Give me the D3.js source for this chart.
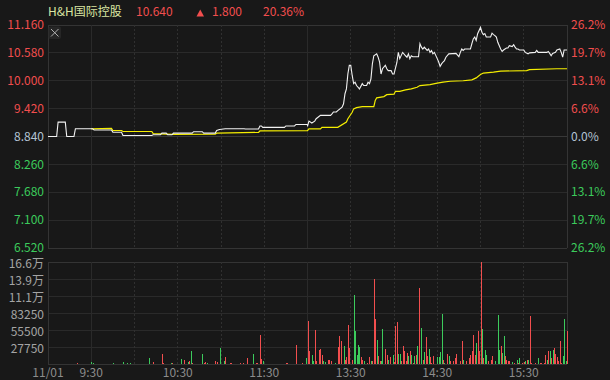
<!DOCTYPE html>
<html>
<head>
<meta charset="utf-8">
<script src="https://cdn.jsdelivr.net/npm/d3@7"></script>
<style>
	body{margin:0;background:#181818;}
	svg{display:block;}
	text{font-family:"Noto Sans CJK SC","Noto Sans",sans-serif;font-size:12px;}
</style>
</head>
<body>
<svg id="chart" width="610" height="380"></svg>
<script>

// quote header
var stockName = "H&H国际控股";
var lastPrice = "10.640";
var change = "1.800";
var changePct = "20.36%";
var prevClose = 8.84;

// price axis
var priceTicks = [11.16, 10.58, 10.00, 9.42, 8.84, 8.26, 7.68, 7.10, 6.52];
var pctLabels = ["26.2%", "19.7%", "13.1%", "6.6%", "0.0%", "6.6%", "13.1%", "19.7%", "26.2%"];

// volume axis
var volTicks = [27750, 55500, 83250, 111000, 138750, 166500];
var volLabels = ["27750", "55500", "83250", "11.1万", "13.9万", "16.6万"];

// time axis
var timeTicks = ["9:00", "9:30", "10:30", "11:30", "13:30", "14:30", "15:30"];
var timeLabels = ["11/01", "9:30", "10:30", "11:30", "13:30", "14:30", "15:30"];
var solidGrid = ["9:30", "12:00"];
var dottedGrid = ["10:00", "10:30", "11:00", "11:30", "13:30", "14:00", "14:30", "15:00", "15:30"];

// minute price line
var priceTimes = ["9:00","9:06","9:07","9:12","9:13","9:18","9:19","9:31","9:32","9:44","9:45","9:51","9:52","10:12","10:13","10:18","10:19","10:22","10:23","10:26",
	"10:27","10:40","10:41","10:47","10:48","10:56","10:57","10:59","11:03","11:16","11:17","11:26","11:27","11:28","11:29","11:44","11:45","11:51","11:52","12:00",
	"13:00","13:01","13:03","13:05","13:06","13:09","13:16","13:17","13:18","13:20","13:21","13:24","13:25","13:26","13:27","13:28","13:29","13:30","13:31","13:32",
	"13:33","13:34","13:35","13:36","13:38","13:39","13:41","13:42","13:43","13:44","13:45","13:46","13:48","13:49","13:50","13:51","13:52","13:54","13:55","13:56",
	"13:58","13:59","14:00","14:02","14:03","14:04","14:06","14:08","14:09","14:10","14:11","14:12","14:13","14:17","14:18","14:19","14:20","14:21","14:23","14:24",
	"14:25","14:26","14:27","14:28","14:30","14:31","14:32","14:33","14:34","14:35","14:36","14:38","14:43","14:45","14:46","14:47","14:48","14:49","14:53","14:54",
	"14:55","14:56","14:57","14:58","15:00","15:01","15:02","15:03","15:04","15:07","15:08","15:09","15:10","15:11","15:12","15:14","15:15","15:16","15:17","15:18",
	"15:19","15:20","15:22","15:23","15:24","15:25","15:26","15:27","15:30","15:31","15:33","15:34","15:38","15:39","15:40","15:46","15:47","15:48","15:49","15:50",
	"15:52","15:53","15:55","15:56","15:57","15:58","16:00"];
var priceValues = [8.84,8.84,9.14,9.14,8.84,8.84,9.00,9.00,8.975,8.975,8.93,8.93,8.86,8.86,8.875,8.875,8.91,8.91,8.875,8.875,
	8.91,8.91,8.94,8.94,8.91,8.91,8.965,8.985,9.00,9.00,8.995,8.995,9.06,9.06,9.03,9.03,9.06,9.06,9.09,9.09,
	9.05,9.16,9.12,9.16,9.21,9.28,9.28,9.31,9.35,9.35,9.38,9.45,9.52,9.73,9.83,10.14,10.32,10.32,10.11,9.94,
	9.97,9.90,9.87,9.83,9.94,9.90,9.90,9.97,9.94,10.04,10.35,10.52,10.56,10.49,10.39,10.14,10.25,10.32,10.25,10.21,
	10.21,10.14,10.14,10.38,10.59,10.46,10.59,10.52,10.49,10.56,10.46,10.52,10.50,10.50,10.77,10.70,10.66,10.70,10.63,10.66,
	10.59,10.63,10.56,10.59,10.46,10.39,10.30,10.35,10.39,10.42,10.49,10.56,10.57,10.50,10.59,10.66,10.63,10.66,10.66,10.77,
	10.87,10.91,10.84,10.98,11.11,11.01,10.96,10.98,10.91,10.91,10.99,10.96,10.94,10.91,10.80,10.66,10.61,10.64,10.66,10.68,
	10.68,10.73,10.71,10.75,10.70,10.66,10.66,10.64,10.64,10.59,10.56,10.58,10.59,10.63,10.59,10.59,10.61,10.57,10.52,10.57,
	10.59,10.64,10.66,10.59,10.49,10.64,10.64];

// average price line
var avgTimes = ["9:30","9:44","9:45","9:51","9:52","10:12","10:13","10:27","10:56","10:57","11:15","11:26","11:27","12:00",
	"13:01","13:09","13:10","13:21","13:27","13:28","13:31","13:32","13:34","13:38","13:46","13:47","13:48","13:53","13:55","14:00",
	"14:01","14:04","14:08","14:12","14:16","14:18","14:25","14:30","14:34","14:39","14:48","14:54","14:57","15:00","15:02","15:09",
	"15:14","15:32","15:34","15:53","16:00"];
var avgValues = [9.00,9.01,8.965,8.965,8.944,8.944,8.90,8.885,8.89,8.91,8.92,8.925,8.955,8.96,
	9.00,9.00,9.03,9.03,9.14,9.21,9.345,9.415,9.44,9.46,9.46,9.59,9.645,9.67,9.71,9.72,
	9.78,9.78,9.81,9.83,9.865,9.90,9.92,9.95,9.97,9.99,10.00,10.02,10.06,10.13,10.16,10.18,
	10.20,10.21,10.23,10.25,10.25];

// minute volume (dir 1 = up tick, -1 = down tick)
var volTimes = ["9:20","9:30","9:31","9:45","9:52","9:55","9:57","10:10","10:13","10:19","10:20","10:25","10:26","10:32","10:34","10:37","10:38","10:39","10:40","10:47",
	"10:48","10:49","10:50","10:56","10:57","10:59","11:02","11:03","11:06","11:07","11:13","11:15","11:18","11:22","11:24","11:25","11:27","11:28","11:29","11:45",
	"11:46","11:52","11:56","11:59","13:00","13:01","13:03","13:04","13:05","13:06","13:08","13:09","13:10","13:11","13:12","13:14","13:15","13:16","13:19","13:21",
	"13:22","13:23","13:25","13:26","13:27","13:28","13:29","13:31","13:32","13:33","13:34","13:35","13:36","13:37","13:38","13:39","13:41","13:43","13:44","13:45",
	"13:46","13:47","13:48","13:49","13:50","13:51","13:52","13:54","13:55","13:56","13:57","13:59","14:00","14:01","14:02","14:03","14:04","14:05","14:06","14:07",
	"14:08","14:09","14:10","14:11","14:12","14:13","14:14","14:15","14:16","14:17","14:19","14:20","14:21","14:22","14:23","14:24","14:25","14:26","14:27","14:30",
	"14:31","14:32","14:33","14:34","14:35","14:37","14:38","14:39","14:41","14:42","14:43","14:46","14:47","14:48","14:50","14:52","14:53","14:54","14:55","14:56",
	"14:57","14:58","14:59","15:00","15:01","15:02","15:03","15:04","15:05","15:07","15:08","15:10","15:12","15:13","15:14","15:15","15:16","15:17","15:18","15:19",
	"15:20","15:22","15:23","15:25","15:26","15:27","15:29","15:30","15:31","15:32","15:33","15:34","15:35","15:38","15:40","15:41","15:42","15:44","15:45","15:46",
	"15:47","15:48","15:49","15:50","15:51","15:52","15:53","15:54","15:55","15:56","15:57","15:58","15:59","16:00"];
var volValues = [1800,4000,1500,1500,3900,1500,1500,10400,3900,16900,1500,1500,1500,8800,7200,3900,5600,21700,1500,16900,
	1500,3300,1500,5600,2700,26600,5600,12000,1500,1500,1500,1500,10400,16900,1500,1500,47700,8800,5600,1800,
	1500,31400,1800,10400,70300,20600,15200,5500,55800,5500,23300,25000,15200,5000,2700,7100,7100,5500,1800,27100,
	46000,36800,29800,7100,10900,63900,26100,6000,112500,54600,15200,31400,28000,11500,7100,5500,1800,11500,5500,5500,
	138400,73600,39500,13500,5500,5500,57400,25000,15200,7100,11500,15200,2700,62300,68200,16900,16900,5500,29800,20600,
	5500,18000,12500,22000,15200,1800,12500,15200,29800,124300,59500,7100,19000,43300,12500,25000,11000,1800,12500,11500,
	11000,19000,81700,7100,1800,16000,12500,5500,5500,10000,16000,5500,36800,7100,5500,10000,15200,20600,47200,15200,
	34200,54100,20600,166000,56900,10000,23300,15200,5500,7100,12500,5500,80100,23300,28700,18000,44900,12500,7100,5500,
	5500,2700,1800,7100,1800,10000,1800,2700,5500,7100,7100,78500,1800,1800,10000,1800,1800,1800,15200,7100,
	21700,20600,10000,23300,26100,16000,11000,5500,36800,1800,12500,73600,5500,54100];
var volDir = [1,-1,-1,-1,-1,-1,-1,-1,1,1,1,-1,1,-1,1,-1,1,-1,1,-1,
	1,1,-1,1,1,-1,-1,1,1,1,1,1,1,-1,1,1,1,1,-1,1,
	1,1,1,-1,1,1,-1,-1,1,1,1,1,1,-1,-1,1,1,1,-1,1,
	1,1,-1,1,1,1,1,1,-1,-1,-1,-1,-1,1,1,-1,1,1,-1,1,
	1,1,-1,1,1,-1,-1,1,1,-1,1,-1,1,1,1,-1,-1,1,1,1,
	1,1,-1,1,-1,1,-1,1,-1,1,-1,1,-1,1,1,-1,1,1,1,-1,
	-1,-1,-1,1,-1,1,-1,1,1,1,1,1,1,-1,1,1,1,1,1,1,
	-1,1,1,1,-1,1,-1,-1,1,1,1,-1,-1,-1,1,-1,-1,1,1,1,
	1,-1,1,-1,1,-1,1,1,-1,1,-1,1,1,1,-1,1,1,1,1,-1,
	1,-1,1,-1,1,1,1,1,1,1,-1,-1,-1,1];

var RED = "#f24e4e", GREEN = "#3ccb5c", GRID = "#2a2a2a", FRAME = "#343434";

// trading minute index: 9:00 -> 0, 12:00 / 13:00 -> 180, 16:00 -> 360
function idx(t){
	var p = t.split(":");
	var mm = +p[0] * 60 + +p[1];
	return mm <= 720 ? mm - 540 : mm - 780 + 180;
}

var svg = d3.select("#chart");

var x = d3.scaleLinear().domain([0, 360]).range([48, 567]);
var yP = d3.scaleLinear().domain([6.52, 11.16]).range([248, 25]);
var yV = d3.scaleLinear().domain([0, 166500]).range([364, 262]);

var grid = svg.append("g").attr("shape-rendering", "crispEdges");

// horizontal grid, price panel
grid.selectAll("line.hp")
	.data(priceTicks)
	.enter()
	.append("line")
	.attr("class", "hp")
	.attr("x1", x(0)).attr("x2", x(360))
	.attr("y1", function(d){ return yP(d); })
	.attr("y2", function(d){ return yP(d); })
	.attr("stroke", function(d, i){ return (i == 0 || i == priceTicks.length - 1) ? FRAME : (d == prevClose ? "#383838" : GRID); });

// horizontal grid, volume panel
grid.selectAll("line.hv")
	.data([0].concat(volTicks))
	.enter()
	.append("line")
	.attr("class", "hv")
	.attr("x1", x(0)).attr("x2", x(360))
	.attr("y1", function(d){ return yV(d); })
	.attr("y2", function(d){ return yV(d); })
	.attr("stroke", function(d, i){ return (i == 0 || i == volTicks.length) ? FRAME : GRID; });

// vertical grid
[[yP(11.16), yP(6.52)], [yV(166500), yV(0)]].forEach(function(r){
	grid.selectAll(null)
		.data(solidGrid)
		.enter()
		.append("line")
		.attr("x1", function(d){ return x(idx(d)); })
		.attr("x2", function(d){ return x(idx(d)); })
		.attr("y1", r[0]).attr("y2", r[1])
		.attr("stroke", GRID);

	grid.selectAll(null)
		.data(dottedGrid)
		.enter()
		.append("line")
		.attr("x1", function(d){ return x(idx(d)); })
		.attr("x2", function(d){ return x(idx(d)); })
		.attr("y1", r[0]).attr("y2", r[1])
		.attr("stroke", "#303030")
		.attr("stroke-dasharray", "2,2");

	grid.selectAll(null)
		.data([0, 360])
		.enter()
		.append("line")
		.attr("x1", function(d){ return x(d); })
		.attr("x2", function(d){ return x(d); })
		.attr("y1", r[0]).attr("y2", r[1])
		.attr("stroke", FRAME);
});

// volume bars
svg.append("g")
	.attr("shape-rendering", "crispEdges")
	.selectAll("rect")
	.data(volValues)
	.enter()
	.append("rect")
	.attr("x", function(d, i){ return Math.round(x(idx(volTimes[i]))) - 0.5; })
	.attr("width", 1)
	.attr("y", function(d){ return yV(d); })
	.attr("height", function(d){ return yV(0) - yV(d); })
	.attr("fill", function(d, i){ return volDir[i] > 0 ? RED : GREEN; });

// price and average lines
var line = d3.line()
	.x(function(d){ return x(idx(d[0])); })
	.y(function(d){ return yP(d[1]); });

svg.append("path")
	.attr("d", line(d3.zip(avgTimes, avgValues)))
	.attr("fill", "none")
	.attr("stroke", "#f5ee00")
	.attr("stroke-width", 1.2);

svg.append("path")
	.attr("d", line(d3.zip(priceTimes, priceValues)))
	.attr("fill", "none")
	.attr("stroke", "#f2f2f2")
	.attr("stroke-width", 1.1);

// left price labels
svg.selectAll("text.pl")
	.data(priceTicks)
	.enter()
	.append("text")
	.attr("class", "pl")
	.attr("x", 44)
	.attr("y", function(d){ return yP(d); })
	.attr("dy", "0.35em")
	.attr("text-anchor", "end")
	.attr("fill", function(d){ return d > prevClose ? RED : (d < prevClose ? GREEN : "#b4c4d4"); })
	.text(function(d){ return d.toFixed(3); });

// right percent labels
svg.selectAll("text.pr")
	.data(priceTicks)
	.enter()
	.append("text")
	.attr("class", "pr")
	.attr("x", 571)
	.attr("y", function(d){ return yP(d); })
	.attr("dy", "0.35em")
	.attr("fill", function(d){ return d > prevClose ? RED : (d < prevClose ? GREEN : "#b4c4d4"); })
	.text(function(d, i){ return pctLabels[i]; });

// volume labels
svg.selectAll("text.vl")
	.data(volTicks)
	.enter()
	.append("text")
	.attr("class", "vl")
	.attr("x", 44)
	.attr("y", function(d){ return yV(d) + 1.5; })
	.attr("dy", "0.35em")
	.attr("text-anchor", "end")
	.attr("fill", "#a4a4a4")
	.text(function(d, i){ return volLabels[i]; });

// time labels
svg.selectAll("text.tl")
	.data(timeTicks)
	.enter()
	.append("text")
	.attr("class", "tl")
	.attr("x", function(d){ return x(idx(d)); })
	.attr("y", 376.5)
	.attr("text-anchor", "middle")
	.attr("fill", "#8c8c8c")
	.text(function(d, i){ return timeLabels[i]; });

// header
var head = svg.append("g");
head.append("text").attr("x", 48).attr("y", 16).attr("fill", "#dbe6a2").text(stockName);
head.append("text").attr("x", 136).attr("y", 16).attr("fill", RED).text(lastPrice);
head.append("path").attr("d", "M196.5,16.5L204,16.5L200.25,9.5Z").attr("fill", RED);
head.append("text").attr("x", 212).attr("y", 16).attr("fill", RED).text(change);
head.append("text").attr("x", 263).attr("y", 16).attr("fill", RED).text(changePct);

// close button
var btn = svg.append("g");
btn.append("rect").attr("x", 48.5).attr("y", 26.5).attr("width", 12.5).attr("height", 12.5).attr("rx", 2).attr("fill", "#262626");
btn.append("path").attr("d", "M51,29L58.5,36.5M58.5,29L51,36.5").attr("stroke", "#b0b0b0").attr("stroke-width", 1);

</script>
</body>
</html>
